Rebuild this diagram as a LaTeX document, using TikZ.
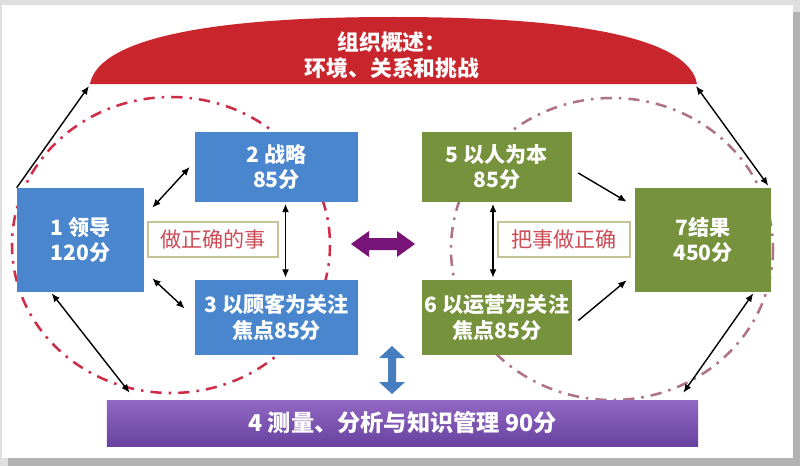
\documentclass[tikz,border=0pt]{standalone}
\usepackage{fontspec}
\setmainfont{Noto Sans CJK SC}
\usetikzlibrary{calc,arrows.meta}

\definecolor{boxblue}{RGB}{74,134,205}
\definecolor{boxgreen}{RGB}{118,146,60}
\definecolor{boxpurpleA}{RGB}{145,105,195}
\definecolor{boxpurpleB}{RGB}{105,65,160}
\definecolor{domered}{RGB}{200,38,44}
\definecolor{ringred}{RGB}{205,45,70}
\definecolor{ringgrey}{RGB}{175,115,135}
\definecolor{labelline}{RGB}{195,195,150}
\definecolor{labeltext}{RGB}{205,75,85}
\definecolor{fatpurple}{RGB}{120,20,120}
\definecolor{fatblue}{RGB}{70,125,190}

\begin{document}
\begin{tikzpicture}[x=0.025cm, y=-0.025cm,
  boxtext/.style={text=white, align=center, inner sep=0pt, font=\fontsize{15}{18}\selectfont\bfseries},
  bluebox/.style={boxtext, fill=boxblue},
  greenbox/.style={boxtext, fill=boxgreen},
  purplebox/.style={boxtext, top color=boxpurpleA, bottom color=boxpurpleB, font=\fontsize{16.5}{20}\selectfont\bfseries},
  tag/.style={draw=labelline, line width=1.2pt, fill=white, text=labeltext, inner sep=0pt,
    minimum height=0.875cm, font=\fontsize{15}{18}\selectfont},
  ringline/.style={line width=1.8pt, dash pattern=on 8pt off 5pt on 1.8pt off 5pt},
  link/.style={black, line width=1pt, -{Latex[length=6pt,width=5pt]}},
  twolink/.style={black, line width=1pt, {Latex[length=6pt,width=5pt]}-{Latex[length=6pt,width=5pt]}}]
% page and panel
\fill[gray!25] (0,0) rectangle (800,466);
\fill[gray!60] (8,12) rectangle (800,466);
\fill[white] (2,5) rectangle (793,458);
\useasboundingbox (0,0) rectangle (800,466);
% dash-dot rings
\draw[ringline, ringred] (171,245) ellipse [x radius=159, y radius=148];
\draw[ringline, ringgrey] (612,249) ellipse [x radius=161, y radius=151];
% dome on top
\fill[domered] (90,84) .. controls (102,22) and (300,17) .. (393,17)
  .. controls (490,17) and (686,22) .. (697,84) -- cycle;
\coordinate (domeL) at (89,86);
\coordinate (domeR) at (696,86);
\node[text=white, align=center, font=\fontsize{15.5}{18.5}\selectfont\bfseries] (dome) at (392,55) {组织概述：\\环境、关系和挑战};
% left group
\node[bluebox, minimum width=3.175cm, minimum height=2.6cm] (lead) at (80.5,240) {1 领导\\120分};
\node[bluebox, minimum width=4.075cm, minimum height=1.725cm] (strat) at (276.5,167) {2 战略\\85分};
\node[bluebox, minimum width=4.075cm, minimum height=1.875cm] (cust) at (276.5,317.5) {3 以顾客为关注\\焦点85分};
\node[tag, minimum width=3.25cm] (doright) at (213,239.5) {做正确的事};
% right group
\node[greenbox, minimum width=3.75cm, minimum height=1.725cm] (staff) at (497,167) {5 以人为本\\85分};
\node[greenbox, minimum width=3.75cm, minimum height=1.875cm] (oper) at (497,317.5) {6 以运营为关注\\焦点85分};
\node[greenbox, minimum width=3.4cm, minimum height=2.6cm] (result) at (703,240) {7结果\\450分};
\node[tag, minimum width=3.3cm] (doitright) at (564,239.5) {把事做正确};
% bottom bar
\node[purplebox, minimum width=14.775cm, minimum height=1.15cm] (measure) at (402.5,423) {4 测量、分析与知识管理 90分};
% fat arrows
\fill[fatpurple] (351,244) -- (369,231) -- (369,238) -- (397,238) -- (397,231) -- (415,244)
  -- (397,257) -- (397,250) -- (369,250) -- (369,257) -- cycle;
\fill[fatblue] (392,346) -- (405,358) -- (396,358) -- (396,382) -- (405,382) -- (392,394)
  -- (379,382) -- (388,382) -- (388,358) -- (379,358) -- cycle;
% connectors
\draw[link] (lead.north west) -- (domeL);
\draw[twolink] ($(result.north east)+(-3,-2)$) -- (domeR);
\draw[twolink] ($(lead.north east)+(8,20)$) -- ($(strat.west)+(-5,0)$);
\draw[twolink] ($(lead.south east)+(8,-14)$) -- ($(cust.west)+(-10,-9)$);
\draw[twolink] ($(strat.south)+(9,2)$) -- ($(cust.north)+(9,-2)$);
\draw[twolink] ($(staff.south)+(-4,2)$) -- ($(oper.north)+(-4,-2)$);
\draw[link] ($(staff.east)+(6,6)$) -- ($(result.north west)+(-8,14)$);
\draw[link] ($(oper.east)+(6,3)$) -- ($(result.south west)+(-8,-12)$);
\draw[twolink] ($(lead.south west)+(35,1)$) -- ($(measure.north west)+(23,-7)$);
\draw[twolink] ($(result.south east)+(-18,1)$) -- ($(measure.north east)+(-15,-7)$);
\end{tikzpicture}
\end{document}
